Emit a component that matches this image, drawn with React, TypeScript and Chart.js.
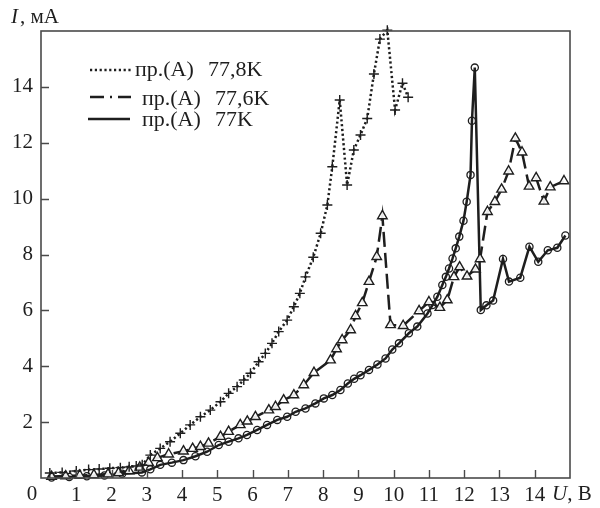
import { useEffect, useRef } from "react";
import { Chart, registerables } from "chart.js";

Chart.register(...registerables);

// ---- data (U in V, I in mA) ----
const U_778 = [0.25, 0.6, 1.0, 1.35, 1.65, 1.95, 2.25, 2.5, 2.7, 2.87, 3.1, 3.38, 3.66, 3.95, 4.23, 4.52, 4.8, 5.09, 5.32, 5.56, 5.75, 5.94, 6.17, 6.36, 6.55, 6.74, 6.98, 7.17, 7.34, 7.5, 7.72, 7.93, 8.12, 8.26, 8.47, 8.68, 8.87, 9.06, 9.25, 9.44, 9.61, 9.82, 10.04, 10.25, 10.41];
const I_778 = [0.18, 0.2, 0.25, 0.3, 0.32, 0.35, 0.37, 0.4, 0.43, 0.47, 0.82, 1.06, 1.3, 1.6, 1.9, 2.19, 2.43, 2.73, 3.03, 3.27, 3.51, 3.75, 4.16, 4.46, 4.82, 5.24, 5.65, 6.13, 6.61, 7.2, 7.9, 8.76, 9.77, 11.14, 13.53, 10.49, 11.74, 12.28, 12.87, 14.46, 15.71, 16.03, 13.17, 14.13, 13.63];

const U_776 = [0.3, 0.7, 1.1, 1.5, 1.9, 2.2, 2.5, 2.8, 3.05, 3.3, 3.62, 4.04, 4.3, 4.52, 4.75, 5.09, 5.32, 5.65, 5.85, 6.08, 6.46, 6.65, 6.88, 7.17, 7.45, 7.74, 8.21, 8.38, 8.54, 8.78, 8.92, 9.11, 9.3, 9.52, 9.68, 9.91, 10.27, 10.72, 11.0, 11.31, 11.52, 11.71, 11.87, 12.08, 12.32, 12.45, 12.66, 12.87, 13.06, 13.26, 13.45, 13.64, 13.84, 14.04, 14.26, 14.44, 14.83];
const I_776 = [0.05, 0.07, 0.09, 0.11, 0.14, 0.18, 0.25, 0.38, 0.55, 0.72, 0.85, 0.96, 1.05, 1.12, 1.24, 1.48, 1.66, 1.9, 2.03, 2.19, 2.43, 2.55, 2.79, 2.97, 3.33, 3.77, 4.22, 4.62, 4.94, 5.3, 5.8, 6.27, 7.03, 7.92, 9.38, 5.48, 5.45, 5.98, 6.3, 6.1, 6.37, 7.2, 7.55, 7.22, 7.47, 7.84, 9.53, 9.89, 10.33, 10.98, 12.16, 11.66, 10.44, 10.74, 9.9, 10.41, 10.63];

const U_77 = [0.3, 0.8, 1.3, 1.8, 2.3, 2.86, 3.1, 3.38, 3.71, 4.04, 4.38, 4.71, 5.04, 5.32, 5.6, 5.84, 6.13, 6.41, 6.7, 6.98, 7.22, 7.5, 7.78, 8.02, 8.26, 8.49, 8.7, 8.88, 9.06, 9.3, 9.54, 9.77, 9.96, 10.15, 10.43, 10.67, 10.96, 11.1, 11.24, 11.38, 11.48, 11.57, 11.67, 11.76, 11.86, 11.98, 12.07, 12.18, 12.22, 12.3, 12.47, 12.63, 12.82, 13.1, 13.27, 13.59, 13.85, 14.1, 14.37, 14.64, 14.87];
const I_77 = [0.02, 0.04, 0.06, 0.09, 0.15, 0.2, 0.31, 0.47, 0.55, 0.64, 0.78, 0.94, 1.18, 1.3, 1.42, 1.54, 1.72, 1.9, 2.08, 2.19, 2.37, 2.49, 2.67, 2.85, 2.97, 3.15, 3.38, 3.55, 3.68, 3.87, 4.06, 4.28, 4.6, 4.82, 5.18, 5.42, 5.89, 6.19, 6.49, 6.91, 7.2, 7.5, 7.86, 8.22, 8.64, 9.21, 9.89, 10.85, 12.79, 14.69, 6.01, 6.18, 6.35, 7.84, 7.03, 7.17, 8.28, 7.74, 8.15, 8.24, 8.68];

const X_TICKS = [1, 2, 3, 4, 5, 6, 7, 8, 9, 10, 11, 12, 13, 14];
const Y_TICKS = [2, 4, 6, 8, 10, 12, 14];
const LEGEND_PREFIX = "пр.(А)";
const LEGEND_TEMPS = ["77,8K", "77,6K", "77K"];
const X_NAME = ["U", ", В"];
const Y_NAME = ["I", ", мА"];

const INK = "#1e1e1e";
const FRAME = "#4a4a4a";
const SERIF = "'Liberation Serif', 'DejaVu Serif', serif";

const pts = (u: number[], i: number[]) => u.map((x, k) => ({ x, y: i[k] }));

const decor = {
  id: "decor",
  afterDraw(chart: any) {
    const { ctx, chartArea: a, scales } = chart;
    const xs = scales.x;
    const ys = scales.y;
    ctx.save();
    // frame
    ctx.strokeStyle = FRAME;
    ctx.lineWidth = 1.6;
    ctx.strokeRect(a.left, a.top, a.right - a.left, a.bottom - a.top);
    // inward ticks
    ctx.beginPath();
    X_TICKS.forEach((v) => {
      const px = Math.round(xs.getPixelForValue(v)) + 0.5;
      ctx.moveTo(px, a.bottom);
      ctx.lineTo(px, a.bottom - 8);
    });
    Y_TICKS.forEach((v) => {
      const py = Math.round(ys.getPixelForValue(v)) + 0.5;
      ctx.moveTo(a.left, py);
      ctx.lineTo(a.left + 8, py);
    });
    ctx.lineWidth = 1.4;
    ctx.stroke();

    ctx.fillStyle = INK;
    ctx.textBaseline = "middle";
    // "0" at origin
    ctx.font = `21px ${SERIF}`;
    ctx.textAlign = "center";
    ctx.fillText("0", a.left - 9, a.bottom + 16);
    // U, B
    ctx.textAlign = "left";
    ctx.font = `italic 21px ${SERIF}`;
    ctx.fillText(X_NAME[0], 552, a.bottom + 16);
    let w = ctx.measureText(X_NAME[0]).width;
    ctx.font = `21px ${SERIF}`;
    ctx.fillText(X_NAME[1], 552 + w, a.bottom + 16);
    // I, mA
    ctx.font = `italic 21px ${SERIF}`;
    ctx.fillText(Y_NAME[0], 11, 17);
    w = ctx.measureText(Y_NAME[0]).width;
    ctx.font = `21px ${SERIF}`;
    ctx.fillText(Y_NAME[1], 11 + w + 2, 17);

    // legend
    const rows = [
      { y: 70, dash: [2.2, 2.6], x0: 90, x1: 132, tx: 135, ty: 70 },
      { y: 97, dash: [14, 6, 2, 6], x0: 90, x1: 131, tx: 142, ty: 99 },
      { y: 119, dash: [], x0: 88, x1: 130, tx: 142, ty: 120 },
    ];
    rows.forEach((r, k) => {
      ctx.beginPath();
      ctx.setLineDash(r.dash);
      ctx.lineWidth = 2.6;
      ctx.strokeStyle = INK;
      ctx.moveTo(r.x0, r.y);
      ctx.lineTo(r.x1, r.y);
      ctx.stroke();
      ctx.setLineDash([]);
      ctx.font = `22px ${SERIF}`;
      ctx.fillText(LEGEND_PREFIX, r.tx, r.ty);
      ctx.fillText(LEGEND_TEMPS[k], r.tx + 73, r.ty);
    });
    ctx.restore();
  },
};

export default function App() {
  const ref = useRef<HTMLCanvasElement | null>(null);
  useEffect(() => {
    if (!ref.current) return;
    const chart = new Chart(ref.current, {
      type: "scatter",
      data: {
        datasets: [
          {
            label: LEGEND_TEMPS[0],
            data: pts(U_778, I_778),
            showLine: true,
            borderColor: INK,
            borderWidth: 2.5,
            borderDash: [2.2, 2.6],
            pointStyle: "cross",
            pointRadius: 5,
            pointBorderWidth: 1.4,
            pointBorderColor: INK,
            backgroundColor: "transparent",
            clip: false,
          } as any,
          {
            label: LEGEND_TEMPS[1],
            data: pts(U_776, I_776),
            showLine: true,
            borderColor: INK,
            borderWidth: 2.5,
            borderDash: [15, 6],
            pointStyle: "triangle",
            pointRadius: 5.5,
            pointBorderWidth: 1.4,
            pointBorderColor: INK,
            pointBackgroundColor: "rgba(255,255,255,0.9)",
            clip: false,
          } as any,
          {
            label: LEGEND_TEMPS[2],
            data: pts(U_77, I_77),
            showLine: true,
            borderColor: INK,
            borderWidth: 2.5,
            pointStyle: "circle",
            pointRadius: 3.6,
            pointBorderWidth: 1.3,
            pointBorderColor: INK,
            pointBackgroundColor: "transparent",
            clip: false,
          } as any,
        ],
      },
      options: {
        animation: false,
        responsive: false,
        maintainAspectRatio: false,
        layout: { padding: { top: 31, right: 30, left: 0, bottom: 0 } },
        plugins: {
          legend: { display: false },
          tooltip: { enabled: false },
        },
        scales: {
          x: {
            type: "linear",
            min: 0,
            max: 15,
            afterFit: (s: any) => {
              s.height = 30;
            },
            grid: { display: false, drawTicks: false },
            border: { display: false },
            ticks: {
              stepSize: 1,
              padding: 5,
              color: INK,
              font: { family: SERIF, size: 21 },
              maxRotation: 0,
              autoSkip: false,
              callback: (v: any) => (X_TICKS.includes(Number(v)) ? String(v) : ""),
            },
          },
          y: {
            type: "linear",
            min: 0,
            max: 16,
            afterFit: (s: any) => {
              s.width = 41;
            },
            grid: { display: false, drawTicks: false },
            border: { display: false },
            ticks: {
              stepSize: 2,
              padding: 8,
              color: INK,
              font: { family: SERIF, size: 21 },
              callback: (v: any) => (Y_TICKS.includes(Number(v)) ? String(v) : ""),
            },
          },
        },
      },
      plugins: [decor],
    } as any);
    return () => chart.destroy();
  }, []);
  return (
    <div style={{ position: "fixed", left: 0, top: 0, width: 600, height: 508, background: "#fff" }}>
      <canvas ref={ref} width={600} height={508} style={{ display: "block" }} />
    </div>
  );
}
